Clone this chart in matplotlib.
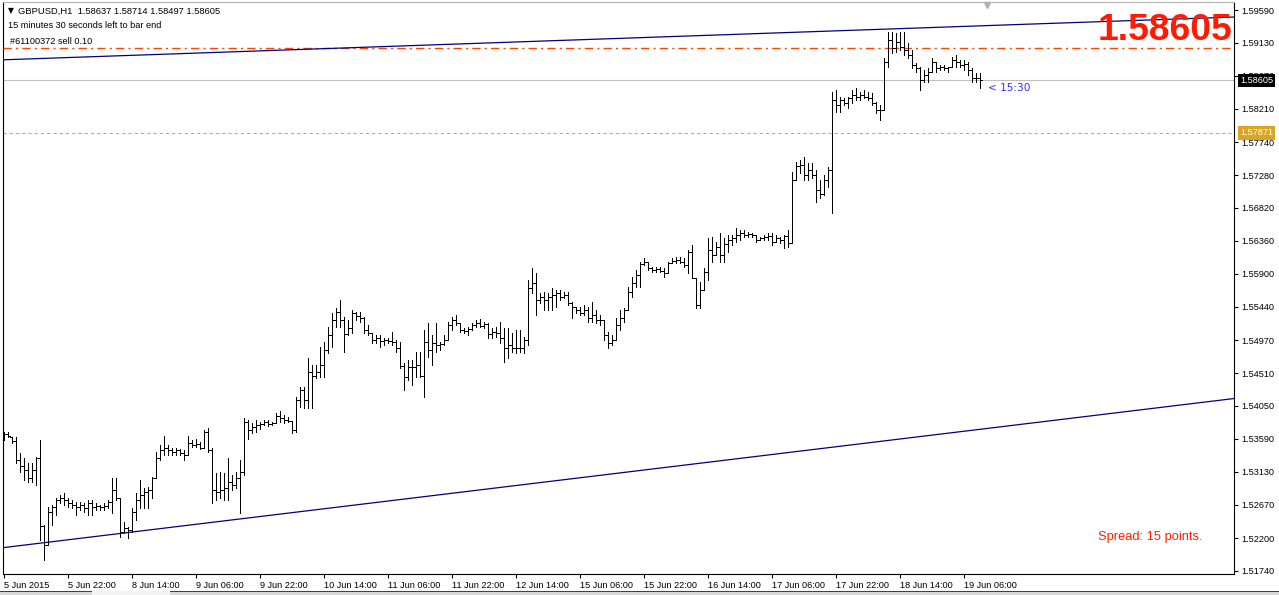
import matplotlib
matplotlib.use("Agg")
import matplotlib.pyplot as plt
import matplotlib.transforms as mtransforms
from matplotlib.collections import LineCollection
from matplotlib.patches import Rectangle
import numpy as np

# ---------------- data (GBPUSD H1, 5 Jun 06:00 .. 19 Jun 10:00) ----------------
opens = [
 1.5363,1.5365,1.5361,1.5356,1.5329,1.5321,1.5315,1.5304,1.5315,1.5332,
 1.5237,1.5210,1.5256,1.5263,1.5273,1.5276,1.5273,1.5269,1.5266,1.5263,
 1.5266,1.5262,1.5269,1.5263,1.5265,1.5263,1.5265,1.5270,1.5287,1.5276,
 1.5228,1.5234,1.5231,1.5256,1.5273,1.5280,1.5284,1.5287,1.5304,1.5332,
 1.5343,1.5346,1.5343,1.5340,1.5343,1.5339,1.5336,1.5353,1.5350,1.5351,
 1.5346,1.5368,1.5343,1.5287,1.5284,1.5287,1.5290,1.5298,1.5294,1.5304,
 1.5312,1.5382,1.5371,1.5375,1.5378,1.5379,1.5382,1.5379,1.5381,1.5391,
 1.5388,1.5385,1.5384,1.5371,1.5413,1.5427,1.5413,1.5452,1.5447,1.5452,
 1.5462,1.5483,1.5504,1.5525,1.5536,1.5525,1.5505,1.5514,1.5535,1.5531,
 1.5528,1.5511,1.5507,1.5497,1.5500,1.5496,1.5497,1.5496,1.5494,1.5486,
 1.5461,1.5445,1.5459,1.5459,1.5462,1.5447,1.5494,1.5483,1.5493,1.5490,
 1.5491,1.5497,1.5518,1.5525,1.5521,1.5511,1.5510,1.5512,1.5518,1.5521,
 1.5517,1.5519,1.5505,1.5508,1.5507,1.5500,1.5486,1.5490,1.5486,1.5486,
 1.5486,1.5497,1.5570,1.5577,1.5553,1.5557,1.5553,1.5557,1.5560,1.5563,
 1.5557,1.5560,1.5549,1.5543,1.5539,1.5535,1.5539,1.5528,1.5532,1.5525,
 1.5525,1.5504,1.5493,1.5497,1.5518,1.5528,1.5539,1.5564,1.5577,1.5588,
 1.5603,1.5606,1.5598,1.5595,1.5596,1.5594,1.5591,1.5605,1.5608,1.5609,
 1.5606,1.5602,1.5620,1.5584,1.5546,1.5567,1.5592,1.5623,1.5616,1.5627,
 1.5616,1.5631,1.5637,1.5640,1.5644,1.5647,1.5644,1.5645,1.5644,1.5637,
 1.5640,1.5641,1.5643,1.5634,1.5640,1.5637,1.5643,1.5633,1.5721,1.5741,
 1.5742,1.5728,1.5735,1.5728,1.5707,1.5701,1.5721,1.5735,1.5833,1.5826,
 1.5833,1.5829,1.5836,1.5840,1.5837,1.5840,1.5837,1.5836,1.5829,1.5819,
 1.5819,1.5886,1.5917,1.5906,1.5914,1.5907,1.5903,1.5896,1.5882,1.5878,
 1.5861,1.5868,1.5872,1.5886,1.5878,1.5879,1.5878,1.5879,1.5889,1.5886,
 1.5882,1.5883,1.5875,1.5864,1.58637]
highs = [
 1.5368,1.5368,1.5361,1.5361,1.5339,1.5332,1.5325,1.5325,1.5333,1.5357,
 1.5238,1.5263,1.5266,1.5276,1.5280,1.5283,1.5276,1.5273,1.5270,1.5270,
 1.5269,1.5273,1.5273,1.5269,1.5266,1.5269,1.5273,1.5304,1.5304,1.5276,
 1.5242,1.5235,1.5262,1.5283,1.5301,1.5290,1.5291,1.5305,1.5340,1.5350,
 1.5363,1.5350,1.5346,1.5346,1.5344,1.5343,1.5363,1.5357,1.5358,1.5354,
 1.5371,1.5374,1.5346,1.5311,1.5312,1.5311,1.5332,1.5308,1.5312,1.5329,
 1.5388,1.5385,1.5381,1.5385,1.5382,1.5385,1.5385,1.5382,1.5395,1.5398,
 1.5392,1.5389,1.5384,1.5417,1.5431,1.5431,1.5472,1.5462,1.5462,1.5487,
 1.5494,1.5515,1.5535,1.5542,1.5553,1.5529,1.5525,1.5539,1.5536,1.5536,
 1.5529,1.5518,1.5507,1.5504,1.5504,1.5500,1.5500,1.5508,1.5497,1.5494,
 1.5465,1.5469,1.5469,1.5480,1.5480,1.5511,1.5521,1.5504,1.5521,1.5494,
 1.5504,1.5522,1.5529,1.5532,1.5521,1.5514,1.5515,1.5521,1.5525,1.5526,
 1.5522,1.5521,1.5514,1.5515,1.5522,1.5514,1.5514,1.5507,1.5511,1.5511,
 1.5501,1.5581,1.5598,1.5591,1.5563,1.5564,1.5563,1.5570,1.5567,1.5567,
 1.5564,1.5564,1.5550,1.5543,1.5543,1.5546,1.5543,1.5550,1.5539,1.5532,
 1.5525,1.5508,1.5504,1.5528,1.5539,1.5542,1.5571,1.5585,1.5595,1.5606,
 1.5612,1.5606,1.5599,1.5599,1.5599,1.5598,1.5606,1.5612,1.5613,1.5613,
 1.5612,1.5623,1.5630,1.5584,1.5578,1.5598,1.5640,1.5641,1.5634,1.5647,
 1.5640,1.5644,1.5644,1.5654,1.5651,1.5651,1.5648,1.5647,1.5644,1.5641,
 1.5644,1.5647,1.5647,1.5644,1.5641,1.5644,1.5651,1.5732,1.5746,1.5749,
 1.5753,1.5745,1.5745,1.5735,1.5721,1.5728,1.5739,1.5844,1.5847,1.5837,
 1.5836,1.5837,1.5847,1.5850,1.5844,1.5847,1.5844,1.5843,1.5830,1.5826,
 1.5892,1.5928,1.5928,1.5927,1.5928,1.5928,1.5913,1.5903,1.5885,1.5879,
 1.5875,1.5878,1.5892,1.5886,1.5882,1.5882,1.5879,1.5893,1.5896,1.5889,
 1.5889,1.5886,1.5878,1.5871,1.58714]
lows = [
 1.5357,1.5361,1.5353,1.5325,1.5312,1.5301,1.5298,1.5298,1.5294,1.5217,
 1.5189,1.5210,1.5238,1.5252,1.5269,1.5266,1.5263,1.5262,1.5252,1.5259,
 1.5256,1.5252,1.5252,1.5259,1.5259,1.5259,1.5262,1.5255,1.5273,1.5221,
 1.5227,1.5220,1.5228,1.5245,1.5262,1.5262,1.5262,1.5276,1.5304,1.5329,
 1.5336,1.5336,1.5336,1.5336,1.5336,1.5329,1.5336,1.5347,1.5347,1.5344,
 1.5346,1.5340,1.5269,1.5273,1.5276,1.5273,1.5273,1.5287,1.5290,1.5255,
 1.5308,1.5358,1.5367,1.5368,1.5372,1.5378,1.5377,1.5378,1.5381,1.5382,
 1.5381,1.5382,1.5367,1.5368,1.5403,1.5402,1.5402,1.5402,1.5444,1.5445,
 1.5445,1.5479,1.5487,1.5515,1.5515,1.5480,1.5504,1.5507,1.5525,1.5522,
 1.5507,1.5504,1.5493,1.5493,1.5487,1.5490,1.5493,1.5490,1.5480,1.5458,
 1.5427,1.5441,1.5434,1.5445,1.5445,1.5417,1.5473,1.5462,1.5480,1.5483,
 1.5490,1.5497,1.5511,1.5518,1.5508,1.5507,1.5504,1.5511,1.5515,1.5515,
 1.5514,1.5500,1.5500,1.5501,1.5493,1.5466,1.5472,1.5480,1.5479,1.5480,
 1.5479,1.5490,1.5563,1.5532,1.5549,1.5539,1.5539,1.5539,1.5543,1.5553,
 1.5556,1.5546,1.5528,1.5535,1.5532,1.5532,1.5522,1.5522,1.5521,1.5518,
 1.5497,1.5486,1.5490,1.5497,1.5511,1.5522,1.5539,1.5557,1.5571,1.5571,
 1.5602,1.5595,1.5592,1.5592,1.5592,1.5585,1.5591,1.5605,1.5605,1.5605,
 1.5599,1.5591,1.5584,1.5542,1.5542,1.5567,1.5581,1.5606,1.5616,1.5606,
 1.5606,1.5620,1.5630,1.5634,1.5637,1.5641,1.5641,1.5641,1.5634,1.5637,
 1.5637,1.5637,1.5630,1.5634,1.5633,1.5626,1.5627,1.5633,1.5721,1.5731,
 1.5721,1.5721,1.5724,1.5690,1.5696,1.5700,1.5711,1.5675,1.5816,1.5816,
 1.5826,1.5822,1.5829,1.5833,1.5833,1.5836,1.5833,1.5826,1.5815,1.5805,
 1.5819,1.5879,1.5899,1.5900,1.5903,1.5896,1.5892,1.5878,1.5872,1.5847,
 1.5858,1.5858,1.5872,1.5872,1.5875,1.5875,1.5872,1.5879,1.5879,1.5879,
 1.5875,1.5868,1.5858,1.5858,1.58497]
closes = [
 1.5365,1.5363,1.5356,1.5329,1.5321,1.5315,1.5304,1.5315,1.5332,1.5237,
 1.5210,1.5256,1.5263,1.5273,1.5276,1.5273,1.5269,1.5266,1.5263,1.5266,
 1.5262,1.5269,1.5263,1.5265,1.5263,1.5265,1.5270,1.5287,1.5276,1.5228,
 1.5234,1.5231,1.5256,1.5273,1.5280,1.5284,1.5287,1.5304,1.5332,1.5343,
 1.5346,1.5343,1.5340,1.5343,1.5339,1.5336,1.5353,1.5350,1.5351,1.5346,
 1.5368,1.5343,1.5287,1.5284,1.5287,1.5290,1.5298,1.5294,1.5304,1.5312,
 1.5382,1.5371,1.5375,1.5378,1.5379,1.5382,1.5379,1.5381,1.5391,1.5388,
 1.5385,1.5384,1.5371,1.5413,1.5427,1.5413,1.5452,1.5447,1.5452,1.5462,
 1.5483,1.5504,1.5525,1.5536,1.5525,1.5505,1.5514,1.5535,1.5531,1.5528,
 1.5511,1.5507,1.5497,1.5500,1.5496,1.5497,1.5496,1.5494,1.5486,1.5461,
 1.5445,1.5459,1.5459,1.5462,1.5447,1.5494,1.5483,1.5493,1.5490,1.5491,
 1.5497,1.5518,1.5525,1.5521,1.5511,1.5510,1.5512,1.5518,1.5521,1.5517,
 1.5519,1.5505,1.5508,1.5507,1.5500,1.5486,1.5490,1.5486,1.5486,1.5486,
 1.5497,1.5570,1.5577,1.5553,1.5557,1.5553,1.5557,1.5560,1.5563,1.5557,
 1.5560,1.5549,1.5543,1.5539,1.5535,1.5539,1.5528,1.5532,1.5525,1.5525,
 1.5504,1.5493,1.5497,1.5518,1.5528,1.5539,1.5564,1.5577,1.5588,1.5603,
 1.5606,1.5598,1.5595,1.5596,1.5594,1.5591,1.5605,1.5608,1.5609,1.5606,
 1.5602,1.5620,1.5584,1.5546,1.5567,1.5592,1.5623,1.5616,1.5627,1.5616,
 1.5631,1.5637,1.5640,1.5644,1.5647,1.5644,1.5645,1.5644,1.5637,1.5640,
 1.5641,1.5643,1.5634,1.5640,1.5637,1.5643,1.5633,1.5721,1.5741,1.5742,
 1.5728,1.5735,1.5728,1.5707,1.5701,1.5721,1.5735,1.5833,1.5826,1.5833,
 1.5829,1.5836,1.5840,1.5837,1.5840,1.5837,1.5836,1.5829,1.5819,1.5819,
 1.5886,1.5917,1.5906,1.5914,1.5907,1.5903,1.5896,1.5882,1.5878,1.5861,
 1.5868,1.5872,1.5886,1.5878,1.5879,1.5878,1.5879,1.5889,1.5886,1.5882,
 1.5883,1.5875,1.5864,1.5864,1.58605]

xtick_bars = [0, 16, 32, 48, 64, 80, 96, 112, 128, 144, 160, 176, 192, 208, 224, 240]
xtick_labels = ["5 Jun 2015", "5 Jun 22:00", "8 Jun 14:00", "9 Jun 06:00", "9 Jun 22:00",
                "10 Jun 14:00", "11 Jun 06:00", "11 Jun 22:00", "12 Jun 14:00", "15 Jun 06:00",
                "15 Jun 22:00", "16 Jun 14:00", "17 Jun 06:00", "17 Jun 22:00", "18 Jun 14:00",
                "19 Jun 06:00"]
ytick_labels = ["1.51740", "1.52200", "1.52670", "1.53130", "1.53590", "1.54050", "1.54510",
                "1.54970", "1.55440", "1.55900", "1.56360", "1.56820", "1.57280", "1.57740",
                "1.58210", "1.58670", "1.59130", "1.59590"]

bid_price = 1.58605
order_price = 1.59054
dotted_price = 1.57871
upper_trend = ([-0.25, 307.5], [1.58893, 1.59492])
lower_trend = ([-0.25, 307.5], [1.52066, 1.54153])

header = "GBPUSD,H1  1.58637 1.58714 1.58497 1.58605"
countdown = "15 minutes 30 seconds left to bar end"
order_label = "#61100372 sell 0.10"
spread_text = "Spread: 15 points."
big_price = "1.58605"
time_left = "< 15:30"

assert len(opens) == len(highs) == len(lows) == len(closes) == 245

# ---------------- figure ----------------
W, H = 1279, 595
fig = plt.figure(figsize=(W / 100, H / 100), dpi=100)
fig.patch.set_facecolor("white")
L_px, R_px, T_px, B_px = 3, 1234, 2, 574
ax = fig.add_axes([L_px / W, 1 - B_px / H, (R_px - L_px) / W, (B_px - T_px) / H])
ax.set_xlim(-0.25, 307.5)
ax.set_ylim(1.516975, 1.59702)
ax.set_facecolor("white")

FONT = ["Liberation Sans", "DejaVu Sans"]

# OHLC bars
xs = np.arange(len(opens))
segs = []
for i, o, h, l, c in zip(xs, opens, highs, lows, closes):
    segs.append([(i, l), (i, h)])
    segs.append([(i - 0.42, o), (i, o)])
    segs.append([(i, c), (i + 0.42, c)])
ax.add_collection(LineCollection(segs, colors="black", linewidths=0.72, zorder=5,
                                 antialiaseds=False, capstyle="butt"))

# horizontal lines
ax.axhline(bid_price, color="#C0C0C0", lw=0.8, zorder=2)
ax.axhline(order_price, color="#FF4500", lw=1.0, ls=(0, (6, 3, 1.5, 3)), zorder=3)
ax.axhline(dotted_price, color="#D8A040", lw=0.75, ls=(0, (3, 3)), zorder=2)

# trend lines
ax.plot(*upper_trend, color="#000080", lw=0.9, zorder=4)
ax.plot(*lower_trend, color="#000080", lw=0.9, zorder=4)

# axes styling
for s in ["left", "bottom", "right"]:
    ax.spines[s].set_color("black")
    ax.spines[s].set_linewidth(0.8)
ax.spines["top"].set_color("#B0B0B0")
ax.spines["top"].set_linewidth(0.8)

ax.yaxis.tick_right()
ax.set_yticks([float(t) for t in ytick_labels])
ax.set_yticklabels(ytick_labels, fontsize=6.6, family=FONT)
ax.tick_params(axis="y", direction="out", length=3, width=0.8, pad=2)

ax.set_xticks(xtick_bars)
ax.set_xticklabels(xtick_labels, fontsize=6.6, family=FONT, ha="left")
ax.tick_params(axis="x", direction="out", length=3, width=0.8, pad=2)

# price labels on axis
btr = mtransforms.blended_transform_factory(fig.transFigure, ax.transData)
ax.text(1240 / W, bid_price, big_price, transform=btr, ha="left", va="center",
        fontsize=6.6, family=FONT, color="white", clip_on=False, zorder=10,
        bbox=dict(boxstyle="square,pad=0.25", fc="black", ec="none"))
ax.text(1240 / W, dotted_price, f"{dotted_price:.5f}", transform=btr, ha="left", va="center",
        fontsize=6.6, family=FONT, color="white", clip_on=False, zorder=10,
        bbox=dict(boxstyle="square,pad=0.25", fc="#DAA520", ec="none"))

# header texts
fig.text(8 / W, 1 - 11 / H, "\u25BC", fontsize=5.5, family=["DejaVu Sans"], va="center", ha="left")
fig.text(18 / W, 1 - 11 / H, header, fontsize=6.75, family=FONT, va="center", ha="left")
fig.text(8 / W, 1 - 25 / H, countdown, fontsize=6.6, family=FONT, va="center", ha="left")
fig.text(10 / W, 1 - 42 / H, order_label, fontsize=6.6, family=FONT, va="center", ha="left")

# big price & spread
fig.text(1232 / W, 1 - 40 / H, big_price, fontsize=26.8, family=FONT, weight="bold",
         color="#FF1A00", ha="right", va="baseline")
fig.text(1203 / W, 1 - 537 / H, spread_text, fontsize=9.3, family=FONT,
         color="#FF2000", ha="right", va="center")
fig.text(988 / W, 1 - 88 / H, time_left, fontsize=7.6, family=["DejaVu Sans"],
         color="#3030FF", ha="left", va="center")

# chart-shift marker
fig.lines.append(plt.Line2D([987 / W], [1 - 5 / H], transform=fig.transFigure, marker="v",
                            markersize=5, color="#B0B0B0", linestyle="none"))

# bottom tab strip
fig.add_artist(Rectangle((0, 0), 1, 3 / H, transform=fig.transFigure, fc="#D8D8D8", ec="none"))
fig.add_artist(Rectangle((0, 3 / H), 1, 1 / H, transform=fig.transFigure, fc="#404040", ec="none"))
fig.add_artist(Rectangle((92 / W, 0), 78 / W, 4 / H, transform=fig.transFigure, fc="#F4F4F4", ec="none"))

fig.savefig("out.png", dpi=100)
